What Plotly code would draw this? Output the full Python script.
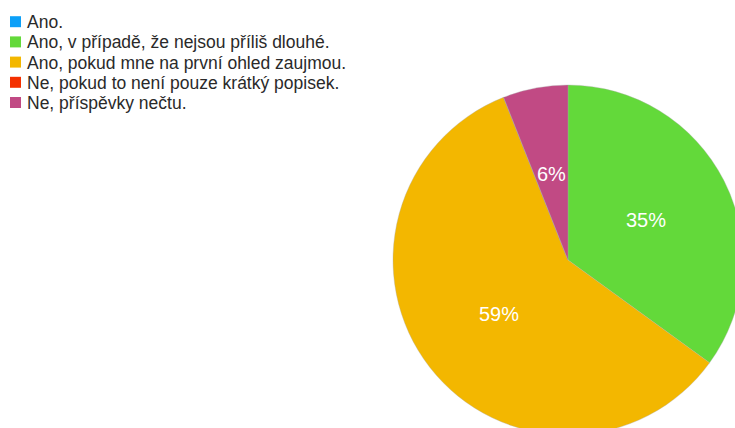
import math
import plotly.graph_objects as go

# Survey answers and their shares (percent)
labels = [
    "Ano.",
    "Ano, v případě, že nejsou příliš dlouhé.",
    "Ano, pokud mne na první ohled zaujmou.",
    "Ne, pokud to není pouze krátký popisek.",
    "Ne, příspěvky nečtu.",
]
values = [0, 35, 59, 0, 6]
colors = ["#0ca0f8", "#63d93a", "#f3b700", "#f43000", "#c14a84"]

FONT = "Liberation Sans, Arial, sans-serif"
W, H = 745, 440
cx, cy, r = 568, 260, 175          # pie centre and radius in pixels


def px(x):
    return x / W


def py(y):
    return (H - y) / H


fig = go.Figure(
    go.Pie(
        labels=labels,
        values=values,
        sort=False,
        direction="clockwise",
        rotation=0,
        marker=dict(colors=colors, line=dict(color="rgba(170,170,170,0.6)", width=0.6)),
        textinfo="none",
        hoverinfo="label+percent",
        showlegend=False,
        domain=dict(x=[px(cx - r), px(cx + r)], y=[py(cy + r), py(cy - r)]),
    )
)

# Percentage labels at half radius along each slice's mid angle (clockwise from 12 o'clock)
total = sum(values)
start = 0.0
annotations = []
for v in values:
    frac = v / total
    if v > 0:
        mid = (start + frac / 2) * 2 * math.pi
        lx = cx + 0.5 * r * math.sin(mid)
        ly = cy - 0.5 * r * math.cos(mid)
        annotations.append(dict(
            x=px(lx), y=py(ly), xref="paper", yref="paper",
            text=f"{round(frac * 100)}%", showarrow=False,
            xanchor="center", yanchor="middle",
            font=dict(color="white", size=20, family=FONT),
        ))
    start += frac

# Legend: coloured squares with answer texts, one row per answer
shapes = []
row0, step, box = 21.7, 20.2, 11
for i, (lab, col) in enumerate(zip(labels, colors)):
    yc = row0 + i * step
    shapes.append(dict(
        type="rect", xref="paper", yref="paper",
        x0=px(10), x1=px(10 + box), y0=py(yc + box / 2), y1=py(yc - box / 2),
        fillcolor=col, line=dict(width=0),
    ))
    annotations.append(dict(
        x=px(24.5), y=py(yc + 0.5), xref="paper", yref="paper",
        text=lab, showarrow=False, xanchor="left", yanchor="middle",
        font=dict(color="#2a2a2a", size=17.5, family=FONT),
    ))

fig.update_layout(
    width=W,
    height=H,
    margin=dict(l=0, r=0, t=0, b=0),
    paper_bgcolor="white",
    plot_bgcolor="white",
    font=dict(family=FONT),
    shapes=shapes,
    annotations=annotations,
)

fig.write_html("out.html")
